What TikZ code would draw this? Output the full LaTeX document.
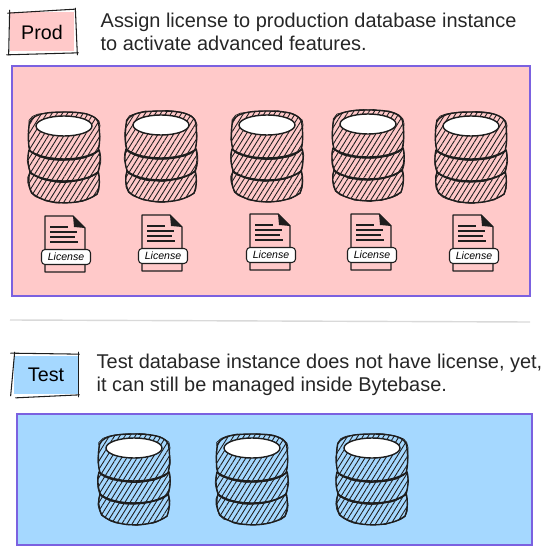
\documentclass[tikz,border=0pt]{standalone}
\usepackage{fontspec}
\setmainfont{Liberation Sans}
\usepackage{xcolor}
\usepackage{tikz}
\usetikzlibrary{positioning, patterns.meta, decorations.pathmorphing}

\definecolor{prodpink}{HTML}{FFC9C9}
\definecolor{testblue}{HTML}{A5D8FF}
\definecolor{zonepurple}{HTML}{7B61E0}
\definecolor{inkblack}{HTML}{1E1E1E}

\begin{document}
\begin{tikzpicture}[
        x=0.02cm, y=-0.02cm,
        ink/.style={draw=inkblack, line width=0.8pt, line join=round},
        rough/.style={decorate, decoration={random steps, segment length=3pt, amplitude=0.3pt}},
        sketchy/.style={ink, postaction={draw=inkblack, line width=0.4pt, rough}},
        tag/.style={rectangle, minimum width=1.28cm, minimum height=0.78cm, font=\fontsize{11.2}{13}\selectfont, inner sep=0pt},
        tagline/.style={draw=inkblack, line width=0.6pt, line cap=round},
        desc/.style={align=left, font=\fontsize{11.35}{13.1}\selectfont, text=black!85, inner sep=0pt},
        zone/.style={rectangle, draw=zonepurple, line width=0.8pt, inner sep=0pt},
        hatch/.style={pattern={Lines[angle=58, distance=2.5pt, line width=0.5pt]}, pattern color=inkblack},
        badge/.style={rectangle, rounded corners=2pt, draw=inkblack, line width=0.6pt, fill=white, minimum width=0.98cm, minimum height=0.3cm, inner sep=0pt, font=\fontsize{6}{6}\selectfont\itshape},
        dbstack/.pic={
            % bottom disc
            \path[sketchy, hatch] (-34,46) .. controls (-36,52) and (-36,60) .. (-32,67)
                .. controls (-18,80) and (18,80) .. (33,68)
                .. controls (36,60) and (36,52) .. (34,46)
                .. controls (20,58) and (-20,58) .. (-34,46) -- cycle;
            % middle disc
            \path[sketchy, hatch] (-35,24) .. controls (-37,32) and (-36,42) .. (-33,47)
                .. controls (-18,59) and (18,59) .. (34,46)
                .. controls (36,40) and (37,32) .. (35,24)
                .. controls (20,36) and (-20,36) .. (-35,24) -- cycle;
            % top disc
            \path[sketchy, hatch] (-35,0) .. controls (-35,-12) and (-18,-14) .. (0,-14)
                .. controls (18,-14) and (35,-12) .. (35,0)
                .. controls (36,10) and (36,18) .. (34,25)
                .. controls (20,37) and (-20,37) .. (-34,25)
                .. controls (-36,18) and (-36,10) .. (-35,0) -- cycle;
            \draw[ink, fill=white] (0,0) ellipse [x radius=28, y radius=10];
        },
        licensedoc/.pic={
            \draw[ink, fill=prodpink] (-20,-28) -- (8,-28) -- (20,-16) -- (20,28) -- (-20,28) -- cycle;
            \fill[inkblack] (8,-28) -- (20,-16) -- (9,-17) -- cycle;
            \draw[inkblack, line width=0.9pt] (-15,-17) -- (3,-17);
            \draw[inkblack, line width=0.9pt] (-15,-12) -- (12,-12);
            \draw[inkblack, line width=0.9pt] (-15,-7) -- (10,-7);
            \draw[inkblack, line width=0.9pt] (-15,-2) -- (13,-2);
            \node[badge] (-badge) at (1,13) {License};
        }
    ]
        \useasboundingbox (0,0) rectangle (553,553);

        % Prod section
        \node[tag, fill=prodpink] (prodtag) at (42,32) {Prod};
        \node[desc, right=26 of prodtag] (proddesc) {Assign license to production database instance\\to activate advanced features.};
        \node[zone, fill=prodpink, minimum width=10.36cm, minimum height=4.6cm] (prodzone) at (271,181) {};

        % Hand drawn outline of the Prod tag
        \draw[tagline] ([shift={(-2,1)}]prodtag.north west) -- ([shift={(1,-3)}]prodtag.north east);
        \draw[tagline] ([shift={(1,-4)}]prodtag.north east) -- ([shift={(3,3)}]prodtag.south east);
        \draw[tagline] ([shift={(-3,3)}]prodtag.south west) -- ([shift={(4,1)}]prodtag.south east);
        \draw[tagline] ([shift={(0,-2)}]prodtag.north west) -- ([shift={(-1,3)}]prodtag.south west);

        \pic at (64,126) {dbstack};
        \pic at (161,125) {dbstack};
        \pic at (267,125) {dbstack};
        \pic at (368,124) {dbstack};
        \pic at (471,126) {dbstack};

        \pic at (65,244) {licensedoc};
        \pic at (162,243) {licensedoc};
        \pic at (270,242) {licensedoc};
        \pic at (371,242) {licensedoc};
        \pic at (473,243) {licensedoc};

        % Separator
        \coordinate (sepleft) at (10,320);
        \coordinate (sepright) at (530,322);
        \draw[black!15, line width=0.8pt] (sepleft) -- (sepright);

        % Test section
        \node[tag, fill=testblue] (testtag) at (46,375) {Test};
        \node[desc, right=18 of testtag] (testdesc) {Test database instance does not have license, yet,\\it can still be managed inside Bytebase.};
        \node[zone, fill=testblue, minimum width=10.3cm, minimum height=2.62cm] (testzone) at (274.5,479.5) {};

        % Hand drawn outline of the Test tag
        \draw[tagline] ([shift={(-3,-2)}]testtag.north west) -- ([shift={(1,-1)}]testtag.north east);
        \draw[tagline] ([shift={(0,-3)}]testtag.north east) -- ([shift={(0,2)}]testtag.south east);
        \draw[tagline] ([shift={(2,3)}]testtag.south west) -- ([shift={(1,0)}]testtag.south east);
        \draw[tagline] ([shift={(1,-3)}]testtag.north west) -- ([shift={(-3,1)}]testtag.south west);

        \pic at (134,448) {dbstack};
        \pic at (252,448) {dbstack};
        \pic at (372,448) {dbstack};
    \end{tikzpicture}
\end{document}
